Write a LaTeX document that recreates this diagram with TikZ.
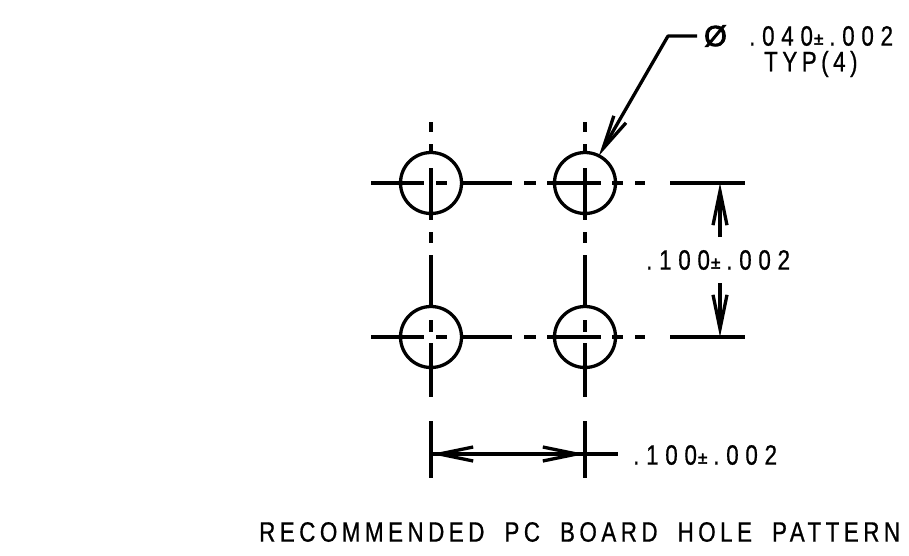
\documentclass[tikz,border=0pt]{standalone}
\usepackage{fontspec}
\usetikzlibrary{arrows.meta}
\newfontfamily\cad[FakeStretch=0.8,LetterSpace=16,FakeBold=0.7]{Liberation Sans}
\newfontfamily\caddim[FakeStretch=0.8,LetterSpace=24,FakeBold=0.7]{Liberation Sans}
\newfontfamily\cadsym[FakeBold=3]{Liberation Sans}
\newcommand{\plusminus}{\kern1pt\raisebox{1pt}{\cadsym\fontsize{17}{17}\selectfont ±}\kern6pt}
\newcommand{\wordgap}{\hspace{20pt}}
\tikzset{
  x=1pt,y=-1pt,
  cadline/.style={line width=3.3pt,black},
  hole/.style={circle,draw,line width=3.3pt,minimum size=61pt,inner sep=0pt,outer sep=0pt},
  cadtext/.style={anchor=west,inner sep=0pt,text=black,font=\cad\fontsize{28}{28}\selectfont},
  dimtext/.style={anchor=west,inner sep=0pt,text=black,font=\caddim\fontsize{28}{28}\selectfont},
  barb/.style={-{Straight Barb[length=34pt,width=14pt,line width=3.3pt]}},
}
\newcommand{\horizcl}[1]{%
  \foreach \a/\b in {371/424,436/447,460/512,524/536,547/601,612/623,635/645}
    {\draw[cadline] (\a,#1) -- (\b,#1);}}
\newcommand{\vertcl}[1]{%
  \foreach \a/\b in {122/132,144/152,168/220,232/243,255/305,320/332,343/397}
    {\draw[cadline] (#1,\a) -- (#1,\b);}}
\begin{document}
\begin{tikzpicture}
\useasboundingbox (0,0) rectangle (909,555);
\node[hole] (h1) at (431,183) {};
\node[hole] (h2) at (585,183) {};
\node[hole] (h3) at (431,337) {};
\node[hole] (h4) at (585,337) {};
\horizcl{183}\horizcl{337}
\vertcl{431}\vertcl{585}
% right dimension
\coordinate (ra1) at (670,183); \coordinate (ra2) at (745,183);
\coordinate (rb1) at (670,337); \coordinate (rb2) at (745,337);
\draw[cadline] (ra1) -- (ra2);
\draw[cadline] (rb1) -- (rb2);
\coordinate (rt) at (720,183); \coordinate (rts) at (720,237);
\coordinate (rb) at (720,337); \coordinate (rbs) at (720,283);
\draw[cadline,barb] (rts) -- (rt);
\draw[cadline,barb] (rbs) -- (rb);
% bottom dimension
\coordinate (ba1) at (431,421); \coordinate (ba2) at (431,478);
\coordinate (bb1) at (585,421); \coordinate (bb2) at (585,478);
\draw[cadline] (ba1) -- (ba2);
\draw[cadline] (bb1) -- (bb2);
\coordinate (bl) at (431,454); \coordinate (br) at (585,454); \coordinate (be) at (618,454);
\draw[cadline,barb] (br) -- (bl);
\draw[cadline,barb] (bl) -- (br);
\draw[cadline] (br) -- (be);
% leader
\coordinate (l0) at (697,36); \coordinate (l1) at (668,36);
\draw[cadline,barb,line join=round] (l0) -- (l1) -- (h2.63);
% texts
\node[anchor=west,inner sep=0pt,font=\cadsym\fontsize{29}{29}\selectfont] (phi) at (704,36) {Ø};
\node[dimtext] (t1) at (749,36) {.040\plusminus.002};
\node[cadtext] (t2) at (764,64) {TYP(4)};
\node[dimtext] (t3) at (646,260) {.100\plusminus.002};
\node[dimtext] (t4) at (633,455) {.100\plusminus.002};
\node[cadtext] (t5) at (259,532) {RECOMMENDED\wordgap PC\wordgap BOARD\wordgap HOLE\wordgap PATTERN};
\end{tikzpicture}
\end{document}
